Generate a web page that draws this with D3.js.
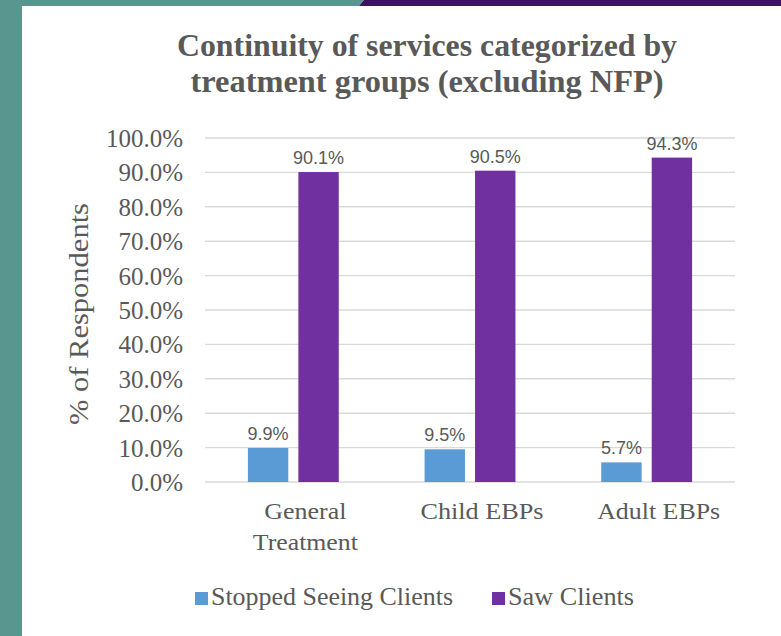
<!DOCTYPE html>
<html>
<head>
<meta charset="utf-8">
<script src="https://cdn.jsdelivr.net/npm/d3@7"></script>
<style>
  html, body { margin: 0; padding: 0; background: #ffffff; }
  svg { display: block; }
</style>
</head>
<body>
<svg id="chart" width="781" height="636"></svg>
<script>
// ---- data ----
const categories = ["General Treatment", "Child EBPs", "Adult EBPs"];
const categoryLines = [["General", "Treatment"], ["Child EBPs"], ["Adult EBPs"]];
const seriesNames = ["Stopped Seeing Clients", "Saw Clients"];
const stoppedValues = [0.099, 0.095, 0.057];
const sawValues = [0.901, 0.905, 0.943];
const yTicks = [0, 0.1, 0.2, 0.3, 0.4, 0.5, 0.6, 0.7, 0.8, 0.9, 1.0];
const titleLines = ["Continuity of services categorized by", "treatment groups (excluding NFP)"];
const yAxisTitle = "% of Respondents";

// ---- styles (text widths matched to the reference rendering) ----
const colors = { "Stopped Seeing Clients": "#5b9bd5", "Saw Clients": "#7030a0" };
const textColor = "#595959";
const serif = "'Liberation Serif', 'Times New Roman', serif";
const sans = "'Liberation Sans', Arial, sans-serif";
const titleWidths = [500, 473];
const catLineWidths = [[82, 105], [123], [123]];
const legendWidths = [242, 126];

const svg = d3.select("#chart");
const W = 781, H = 636;

// background frame
svg.append("rect").attr("x", 0).attr("y", 0).attr("width", W).attr("height", H).attr("fill", "#ffffff");
svg.append("rect").attr("x", 0).attr("y", 0).attr("width", 22).attr("height", H).attr("fill", "#5a9690");
svg.append("polygon").attr("points", "0,0 364,0 359,6 0,6").attr("fill", "#5a9690");
svg.append("polygon").attr("points", "364,0 781,0 781,6 359,6").attr("fill", "#3b135e");

// ---- scales ----
const margin = { left: 205, right: 46, top: 138, bottom: 154 };
const x0 = d3.scaleBand().domain(categories).range([margin.left, W - margin.right]).padding(0);
const x1 = d3.scaleBand().domain(seriesNames).range([0, x0.bandwidth()])
  .paddingInner(0.2).paddingOuter(0.85);
const y = d3.scaleLinear().domain([0, 1]).range([H - margin.bottom, margin.top]);

const rows = categories.map((c, i) => ({
  cat: c,
  vals: [
    { key: seriesNames[0], v: stoppedValues[i] },
    { key: seriesNames[1], v: sawValues[i] }
  ]
}));

// gridlines
svg.append("g").selectAll("line").data(yTicks).join("line")
  .attr("x1", margin.left).attr("x2", W - margin.right)
  .attr("y1", d => y(d)).attr("y2", d => y(d))
  .attr("stroke", "#d9d9d9").attr("stroke-width", 1.4);

// y axis labels
const yAxis = d3.axisLeft(y).tickValues(yTicks).tickFormat(d3.format(".1%")).tickSize(0).tickPadding(22);
const gy = svg.append("g").attr("transform", `translate(${margin.left},0)`).call(yAxis);
gy.select(".domain").remove();
gy.selectAll("text")
  .attr("font-family", serif).attr("font-size", 25).attr("fill", textColor)
  .attr("dy", "0.34em");

// bars
const groups = svg.append("g").selectAll("g").data(rows).join("g")
  .attr("transform", d => `translate(${x0(d.cat)},0)`);
groups.selectAll("rect").data(d => d.vals).join("rect")
  .attr("x", d => x1(d.key))
  .attr("width", x1.bandwidth())
  .attr("y", d => y(d.v))
  .attr("height", d => y(0) - y(d.v))
  .attr("fill", d => colors[d.key]);

// data labels
groups.selectAll("text").data(d => d.vals).join("text")
  .attr("x", d => x1(d.key) + x1.bandwidth() / 2)
  .attr("y", d => y(d.v) - 8)
  .attr("text-anchor", "middle")
  .attr("font-family", sans).attr("font-size", 18).attr("fill", textColor)
  .text(d => d3.format(".1%")(d.v));

// x axis labels
const xAxis = d3.axisBottom(x0).tickSize(0).tickFormat("");
const gx = svg.append("g").attr("transform", `translate(0,${y(0)})`).call(xAxis);
gx.select(".domain").remove();
gx.selectAll(".tick").each(function(d, i) {
  const t = d3.select(this).append("text")
    .attr("text-anchor", "middle")
    .attr("font-family", serif).attr("font-size", 24).attr("fill", textColor);
  categoryLines[i].forEach((line, j) => {
    t.append("tspan").attr("x", 12).attr("y", 37 + j * 31)
      .attr("textLength", catLineWidths[i][j]).attr("lengthAdjust", "spacingAndGlyphs")
      .text(line);
  });
});

// title
svg.append("g").selectAll("text").data(titleLines).join("text")
  .attr("x", 427).attr("y", (d, i) => 56 + i * 36)
  .attr("text-anchor", "middle")
  .attr("font-family", serif).attr("font-weight", "bold").attr("font-size", 31)
  .attr("fill", textColor)
  .attr("textLength", (d, i) => titleWidths[i]).attr("lengthAdjust", "spacingAndGlyphs")
  .text(d => d);

// y axis title
svg.append("text")
  .attr("transform", `translate(88,314) rotate(-90)`)
  .attr("text-anchor", "middle")
  .attr("font-family", serif).attr("font-size", 27).attr("fill", textColor)
  .attr("textLength", 222).attr("lengthAdjust", "spacingAndGlyphs")
  .text(yAxisTitle);

// legend
const legendX = [195, 492];
const lg = svg.append("g").selectAll("g").data(seriesNames).join("g")
  .attr("transform", (d, i) => `translate(${legendX[i]},592)`);
lg.append("rect").attr("width", 13).attr("height", 13).attr("fill", d => colors[d]);
lg.append("text").attr("x", 16).attr("y", 13)
  .attr("font-family", serif).attr("font-size", 25).attr("fill", textColor)
  .attr("textLength", (d, i) => legendWidths[i]).attr("lengthAdjust", "spacingAndGlyphs")
  .text(d => d);
</script>
</body>
</html>
